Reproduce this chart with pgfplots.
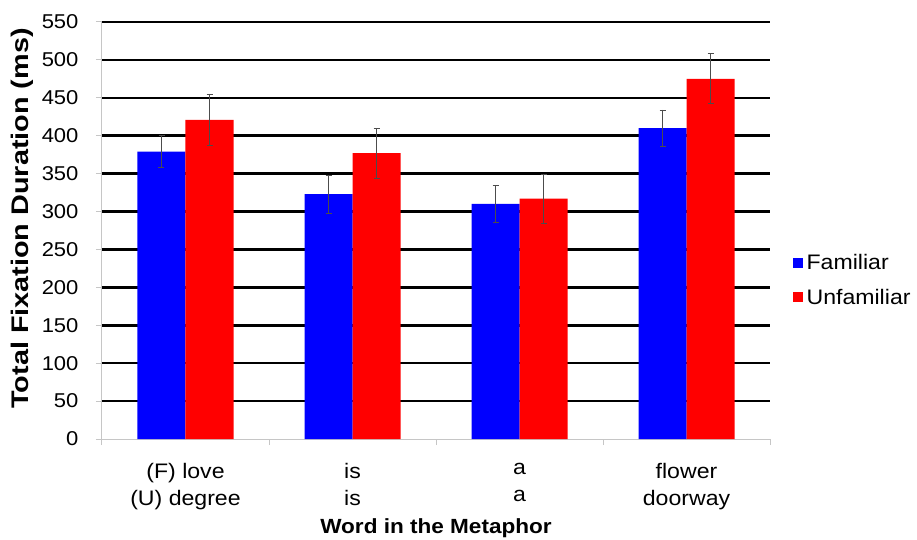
\documentclass[border=0pt]{standalone}
\usepackage{fontspec}
\setmainfont[FakeStretch=1.1]{Liberation Sans}
\newfontfamily\ylabfont[FakeStretch=1.2]{Liberation Sans}
\usepackage{pgfplots}
\pgfplotsset{compat=1.18}
\definecolor{famblue}{RGB}{0,0,255}
\definecolor{unfred}{RGB}{255,0,0}

\pgfplotstableread{
x  fam  famerr  unf  unferr
0  379  21      421  34
1  323  25      377  33
2  310  24      317  32
3  410  24      475  33
}\fixdata

\begin{document}
\begin{tikzpicture}[x=1pt,y=1pt]
\path[use as bounding box] (-102,-101) rectangle (815,439);
\begin{axis}[
    at={(0,0)}, anchor=south west,
    scale only axis,
    width=668pt, height=417pt,
    ybar, bar width=48pt,
    xmin=-0.5, xmax=3.5,
    ymin=0, ymax=550,
    axis x line*=bottom, axis y line*=left,
    axis line style={gray!45, line width=1pt},
    xtick={0,1,2,3},
    xticklabels={{(F) love\\(U) degree},{is\\is},{a\\a},{flower\\doorway}},
    xticklabel style={align=center, font=\fontsize{21}{27}\selectfont, yshift=-15pt},
    major x tick style={draw=none},
    minor xtick={-0.5,0.5,1.5,2.5,3.5},
    minor x tick style={gray!45, line width=1pt},
    minor tick length=6pt,
    tick align=outside,
    ytick={50,100,...,550},
    extra y ticks={0},
    extra y tick style={grid=none},
    major y tick style={gray!45, line width=1pt},
    major tick length=6pt,
    yticklabel style={font=\fontsize{20}{22}\selectfont, xshift=-14pt},
    /pgf/number format/assume math mode=true,
    ymajorgrids=true,
    grid style={black, line width=2.6pt},
    xlabel={\textbf{Word in the Metaphor}},
    xlabel style={font=\fontsize{20.5}{24}\selectfont, yshift=-2pt},
    ylabel={\textbf{Total Fixation Duration (ms)}},
    ylabel style={font=\ylabfont\fontsize{24}{26}\selectfont, yshift=-11pt, xshift=12pt},
    legend style={at={(1.029,0.381)}, anchor=west, draw=none, fill=none,
        font=\fontsize{21}{24}\selectfont, row sep=14pt,
        nodes={inner xsep=4pt}},
    legend cell align=left,
    error bars/error bar style={black!70, line width=0.8pt},
    error bars/error mark options={rotate=90, black!70, mark size=3pt, line width=0.8pt},
]
\addplot[fill=famblue, draw=none, bar shift=-24pt,
    legend image code/.code={\fill[famblue] (0pt,-5pt) rectangle (10pt,5pt);},
    error bars/.cd, y dir=both, y explicit]
    table[x=x, y=fam, y error=famerr] {\fixdata};
\addlegendentry{Familiar}
\addplot[fill=unfred, draw=none, bar shift=24pt,
    legend image code/.code={\fill[unfred] (0pt,-5pt) rectangle (10pt,5pt);},
    error bars/.cd, y dir=both, y explicit]
    table[x=x, y=unf, y error=unferr] {\fixdata};
\addlegendentry{Unfamiliar}
\end{axis}
\end{tikzpicture}
\end{document}
